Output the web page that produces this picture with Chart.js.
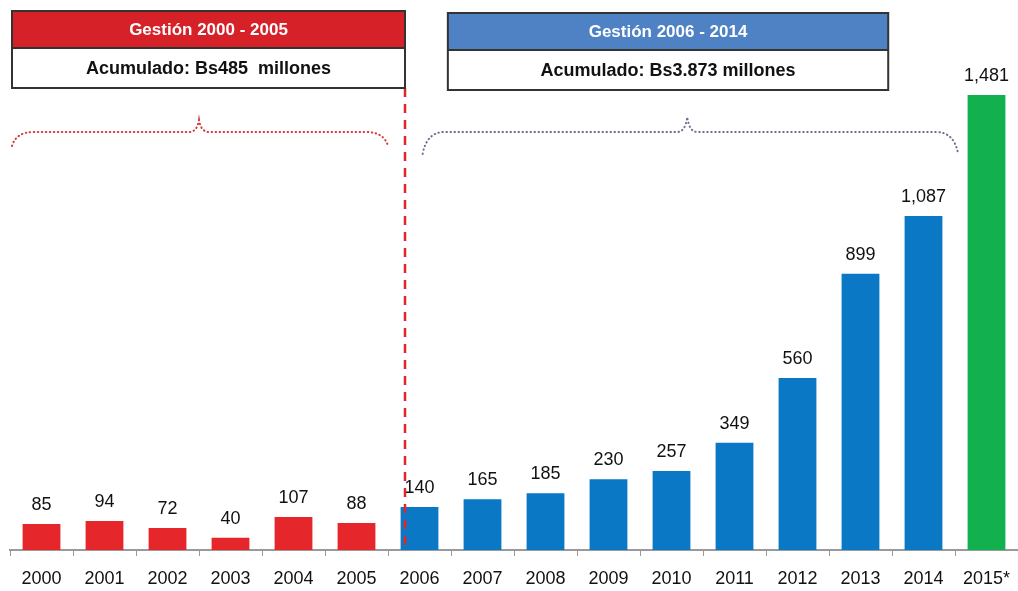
<!DOCTYPE html>
<html lang="es">
<head>
<meta charset="UTF-8">
<title>Gestión 2000 - 2015</title>
<script src="https://cdn.jsdelivr.net/npm/chart.js"></script>
<style>
    html, body { margin: 0; padding: 0; background: #ffffff; }
    #wrap { width: 1018px; height: 591px; position: relative; }
</style>
</head>
<body>
<div id="wrap"><canvas id="grafico"></canvas></div>
<script>
// datos (millones de Bs)
const years = ["2000","2001","2002","2003","2004","2005","2006","2007","2008","2009","2010","2011","2012","2013","2014","2015*"];
const values = [85, 94, 72, 40, 107, 88, 140, 165, 185, 230, 257, 349, 560, 899, 1087, 1481];
const valueLabels = ["85","94","72","40","107","88","140","165","185","230","257","349","560","899","1,087","1,481"];
const periodTitles = ["Gestión 2000 - 2005", "Gestión 2006 - 2014"];
const periodTotals = ["Acumulado: Bs485  millones", "Acumulado: Bs3.873 millones"];

const RED = "#e5262a", BLUE = "#0a78c4", GREEN = "#12b04e";
const barColors = values.map((v, i) => i < 6 ? RED : (i < 15 ? BLUE : GREEN));
const FONT = "'Liberation Sans', Arial, sans-serif";

// etiquetas de valor encima de cada barra
const valueLabelPlugin = {
    id: "valueLabels",
    afterDatasetsDraw(chart) {
        const ctx = chart.ctx;
        const meta = chart.getDatasetMeta(0);
        ctx.save();
        ctx.font = "18px " + FONT;
        ctx.fillStyle = "#111";
        ctx.textAlign = "center";
        ctx.textBaseline = "bottom";
        meta.data.forEach((bar, i) => {
            ctx.fillText(valueLabels[i], bar.x, bar.y - 10);
        });
        ctx.restore();
    }
};

function brace(ctx, x0, x1, xm, y, yEnd, yPeak) {
    ctx.beginPath();
    ctx.moveTo(x0, yEnd);
    ctx.quadraticCurveTo(x0 + 4, y, x0 + 22, y);
    ctx.lineTo(xm - 10, y);
    ctx.quadraticCurveTo(xm - 2, y, xm, yPeak);
    ctx.quadraticCurveTo(xm + 2, y, xm + 10, y);
    ctx.lineTo(x1 - 22, y);
    ctx.quadraticCurveTo(x1 - 4, y, x1, yEnd);
    ctx.stroke();
}

function periodBox(ctx, x0, x1, y0, headColor, title, total) {
    const hh = 37, bh = 40;
    ctx.fillStyle = headColor;
    ctx.fillRect(x0, y0, x1 - x0, hh);
    ctx.fillStyle = "#fff";
    ctx.fillRect(x0, y0 + hh, x1 - x0, bh);
    ctx.strokeStyle = "#333";
    ctx.lineWidth = 2;
    ctx.strokeRect(x0, y0, x1 - x0, hh + bh);
    ctx.beginPath();
    ctx.moveTo(x0, y0 + hh);
    ctx.lineTo(x1, y0 + hh);
    ctx.stroke();
    ctx.textAlign = "center";
    ctx.textBaseline = "middle";
    ctx.font = "bold 17px " + FONT;
    ctx.fillStyle = "#fff";
    ctx.fillText(title, (x0 + x1) / 2, y0 + hh / 2 + 1);
    ctx.font = "bold 18px " + FONT;
    ctx.fillStyle = "#111";
    ctx.fillText(total, (x0 + x1) / 2, y0 + hh + bh / 2 + 1);
}

// cajas de gestión, llaves punteadas y línea divisoria
const periodPlugin = {
    id: "periods",
    afterDraw(chart) {
        const ctx = chart.ctx;
        const x = chart.scales.x;
        const bottom = chart.chartArea.bottom;
        const px = v => x.getPixelForValue(v);
        ctx.save();

        // línea divisoria roja
        ctx.strokeStyle = "#e0262b";
        ctx.lineWidth = 2.5;
        ctx.setLineDash([9, 7]);
        ctx.beginPath();
        ctx.moveTo(px(5.77), 88);
        ctx.lineTo(px(5.77), bottom);
        ctx.stroke();
        ctx.setLineDash([]);

        periodBox(ctx, 12, px(5.77), 11, "#d62128", periodTitles[0], periodTotals[0]);
        periodBox(ctx, px(6.45), px(13.44), 13, "#4e82c4", periodTitles[1], periodTotals[1]);

        ctx.lineWidth = 2;
        ctx.lineCap = "round";
        ctx.setLineDash([0.5, 3.5]);
        ctx.strokeStyle = "#d6383c";
        brace(ctx, 12, px(5.5), px(2.5), 132, 146, 120);
        ctx.strokeStyle = "#6b6f8f";
        brace(ctx, px(6.05), px(14.55), px(10.25), 132, 154, 117);
        ctx.restore();
    }
};

new Chart(document.getElementById("grafico"), {
    type: "bar",
    data: {
        labels: years,
        datasets: [{
            data: values,
            backgroundColor: barColors,
            barPercentage: 0.6,
            categoryPercentage: 1.0
        }]
    },
    options: {
        responsive: true,
        maintainAspectRatio: false,
        animation: false,
        layout: { padding: { left: 10, right: 0, top: 0, bottom: 0 } },
        plugins: { legend: { display: false }, tooltip: { enabled: false } },
        scales: {
            x: {
                offset: true,
                grid: {
                    offset: true,
                    drawOnChartArea: false,
                    drawTicks: true,
                    tickLength: 6,
                    color: "#9a9a9a"
                },
                border: { color: "#9a9a9a", width: 2 },
                ticks: {
                    color: "#111",
                    font: { family: FONT, size: 18 },
                    padding: 12,
                    maxRotation: 0,
                    autoSkip: false
                },
                afterFit(scale) {
                    scale.height = 41;
                    scale.paddingLeft = 0;
                    scale.paddingRight = 0;
                }
            },
            y: {
                display: false,
                min: 0,
                max: 1790
            }
        }
    },
    plugins: [valueLabelPlugin, periodPlugin]
});
</script>
</body>
</html>
